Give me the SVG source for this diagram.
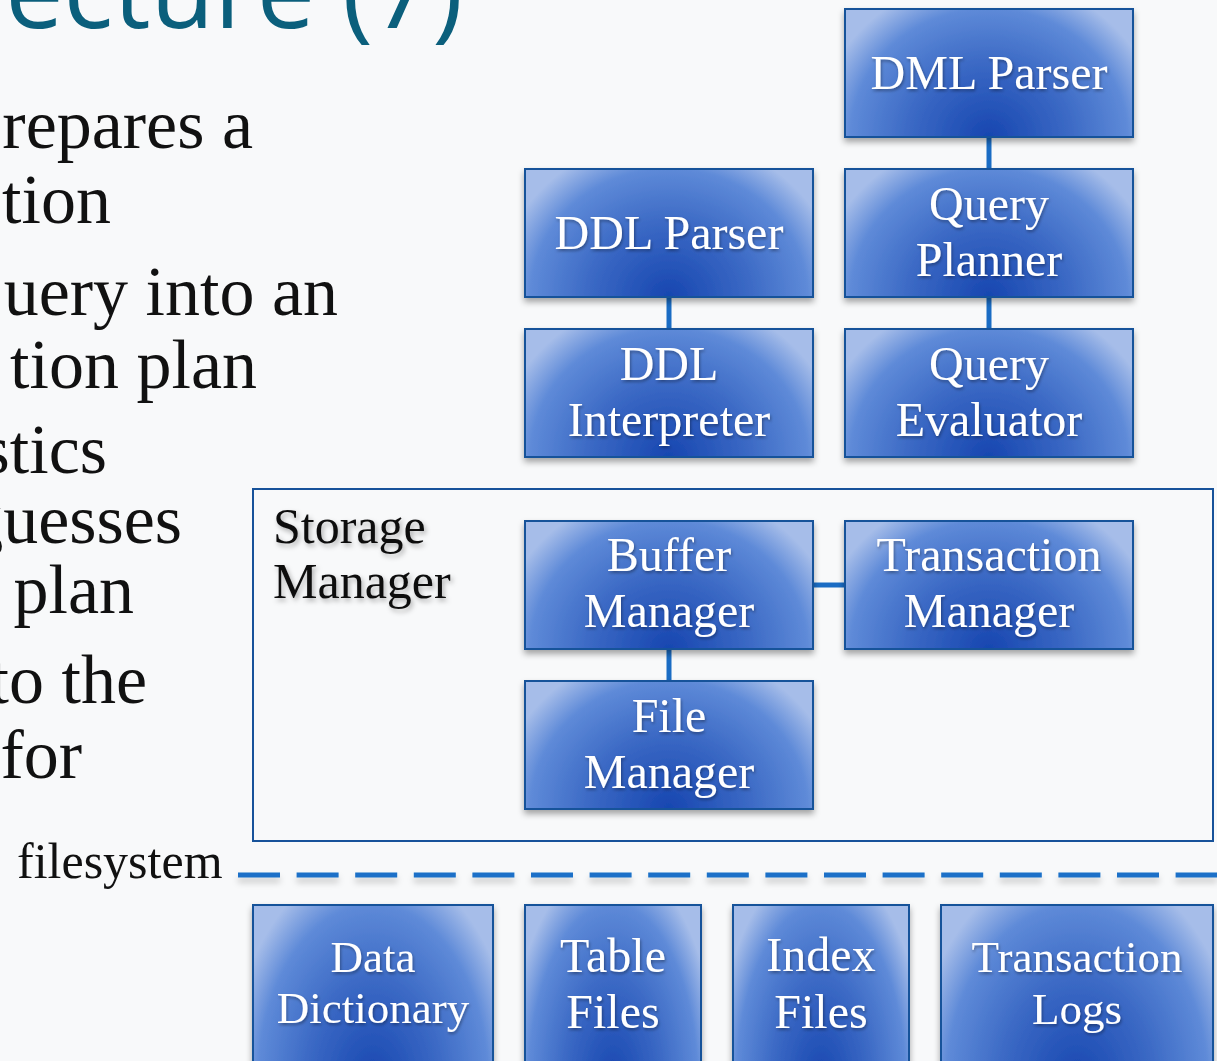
<svg xmlns="http://www.w3.org/2000/svg" width="1217" height="1061" viewBox="0 0 1217 1061">
  <defs>
    <radialGradient id="boxFill" cx="0.5" cy="1" r="1" gradientTransform="translate(0.5,1) scale(0.6,1.25) translate(-0.5,-1)">
      <stop offset="0" stop-color="#1746b0"/>
      <stop offset="0.45" stop-color="#3a68c4"/>
      <stop offset="0.8" stop-color="#5e8ad8"/>
      <stop offset="1" stop-color="#a6bde9"/>
    </radialGradient>
    <filter id="boxShadow" x="-10%" y="-10%" width="120%" height="130%">
      <feDropShadow dx="0" dy="4" stdDeviation="3" flood-color="#000" flood-opacity="0.35"/>
    </filter>
    <filter id="textShadow" x="-10%" y="-20%" width="120%" height="150%">
      <feDropShadow dx="1" dy="2" stdDeviation="1.5" flood-color="#000" flood-opacity="0.35"/>
    </filter>
    <filter id="labelShadow" x="-10%" y="-20%" width="120%" height="150%">
      <feDropShadow dx="2" dy="3" stdDeviation="2.5" flood-color="#000" flood-opacity="0.3"/>
    </filter>
    <filter id="lineShadow" filterUnits="userSpaceOnUse" x="220" y="860" width="1000" height="40">
      <feDropShadow dx="0" dy="5" stdDeviation="3" flood-color="#000" flood-opacity="0.2"/>
    </filter>
  </defs>
  <style>
    .box { fill: url(#boxFill); stroke: #17529a; stroke-width: 2; filter: url(#boxShadow); }
    .lbl { font-family: "Liberation Serif", "Times New Roman", serif; font-size: 48px; fill: #ffffff; text-anchor: middle; filter: url(#textShadow); }
    .sm { font-size: 45px; }
    .body { font-family: "Liberation Serif", "Times New Roman", serif; font-size: 70px; fill: #111111; text-anchor: end; }
    .link { stroke: #1a6cc4; stroke-width: 5; fill: none; }
  </style>

  <rect width="1217" height="1061" fill="#f8f9fa"/>

  <!-- slide title and bullet text -->
  <text x="463" y="28" font-family="'Open Sans', 'Liberation Sans', sans-serif" font-size="104" fill="#0b5f7c" text-anchor="end">ecture (7)</text>
  <g id="bullets">
    <text class="body" x="253" y="148">repares a</text>
    <text class="body" x="111" y="223">tion</text>
    <text class="body" x="338" y="315">uery into an</text>
    <text class="body" x="257" y="388">tion plan</text>
    <text class="body" x="107" y="473">stics</text>
    <text class="body" x="182" y="543">guesses</text>
    <text class="body" x="134" y="613">plan</text>
    <text class="body" x="147" y="703">to the</text>
    <text class="body" x="82" y="778">for</text>
  </g>

  <!-- storage manager container -->
  <g id="storage-manager">
    <rect x="253" y="489" width="960" height="352" fill="none" stroke="#17529a" stroke-width="2"/>
    <text x="273" y="543" font-family="'Liberation Serif', 'Times New Roman', serif" font-size="50" fill="#111" filter="url(#labelShadow)">Storage</text>
    <text x="273" y="598" font-family="'Liberation Serif', 'Times New Roman', serif" font-size="50" fill="#111" filter="url(#labelShadow)">Manager</text>
  </g>

  <!-- connectors -->
  <g id="connectors">
    <line class="link" x1="989" y1="137" x2="989" y2="169"/>
    <line class="link" x1="989" y1="297" x2="989" y2="329"/>
    <line class="link" x1="669" y1="297" x2="669" y2="329"/>
    <line class="link" x1="813" y1="585" x2="845" y2="585"/>
    <line class="link" x1="669" y1="649" x2="669" y2="681"/>
  </g>

  <!-- filesystem boundary -->
  <g id="filesystem">
    <text x="17" y="878" font-family="'Liberation Serif', 'Times New Roman', serif" font-size="50" fill="#111">filesystem</text>
    <path d="M238 875 H1217" stroke="#1a70c8" stroke-width="5" stroke-dasharray="42 16.6" fill="none" filter="url(#lineShadow)"/>
  </g>

  <g id="dml-parser">
    <rect class="box" x="845" y="9" width="288" height="128"/>
    <text class="lbl" x="989" y="89">DML Parser</text>
  </g>
  <g id="ddl-parser">
    <rect class="box" x="525" y="169" width="288" height="128"/>
    <text class="lbl" x="669" y="249">DDL Parser</text>
  </g>
  <g id="query-planner">
    <rect class="box" x="845" y="169" width="288" height="128"/>
    <text class="lbl" x="989" y="220">Query</text>
    <text class="lbl" x="989" y="276">Planner</text>
  </g>
  <g id="ddl-interpreter">
    <rect class="box" x="525" y="329" width="288" height="128"/>
    <text class="lbl" x="669" y="380">DDL</text>
    <text class="lbl" x="669" y="436">Interpreter</text>
  </g>
  <g id="query-evaluator">
    <rect class="box" x="845" y="329" width="288" height="128"/>
    <text class="lbl" x="989" y="380">Query</text>
    <text class="lbl" x="989" y="436">Evaluator</text>
  </g>
  <g id="buffer-manager">
    <rect class="box" x="525" y="521" width="288" height="128"/>
    <text class="lbl" x="669" y="571">Buffer</text>
    <text class="lbl" x="669" y="627">Manager</text>
  </g>
  <g id="transaction-manager">
    <rect class="box" x="845" y="521" width="288" height="128"/>
    <text class="lbl" x="989" y="571">Transaction</text>
    <text class="lbl" x="989" y="627">Manager</text>
  </g>
  <g id="file-manager">
    <rect class="box" x="525" y="681" width="288" height="128"/>
    <text class="lbl" x="669" y="732">File</text>
    <text class="lbl" x="669" y="788">Manager</text>
  </g>

  <g id="data-dictionary">
    <rect class="box" x="253" y="905" width="240" height="180"/>
    <text class="lbl sm" x="373" y="972">Data</text>
    <text class="lbl sm" x="373" y="1023">Dictionary</text>
  </g>
  <g id="table-files">
    <rect class="box" x="525" y="905" width="176" height="180"/>
    <text class="lbl" x="613" y="972">Table</text>
    <text class="lbl" x="613" y="1028">Files</text>
  </g>
  <g id="index-files">
    <rect class="box" x="733" y="905" width="176" height="180"/>
    <text class="lbl" x="821" y="971">Index</text>
    <text class="lbl" x="821" y="1028">Files</text>
  </g>
  <g id="transaction-logs">
    <rect class="box" x="941" y="905" width="272" height="180"/>
    <text class="lbl sm" x="1077" y="972">Transaction</text>
    <text class="lbl sm" x="1077" y="1024">Logs</text>
  </g>
</svg>
